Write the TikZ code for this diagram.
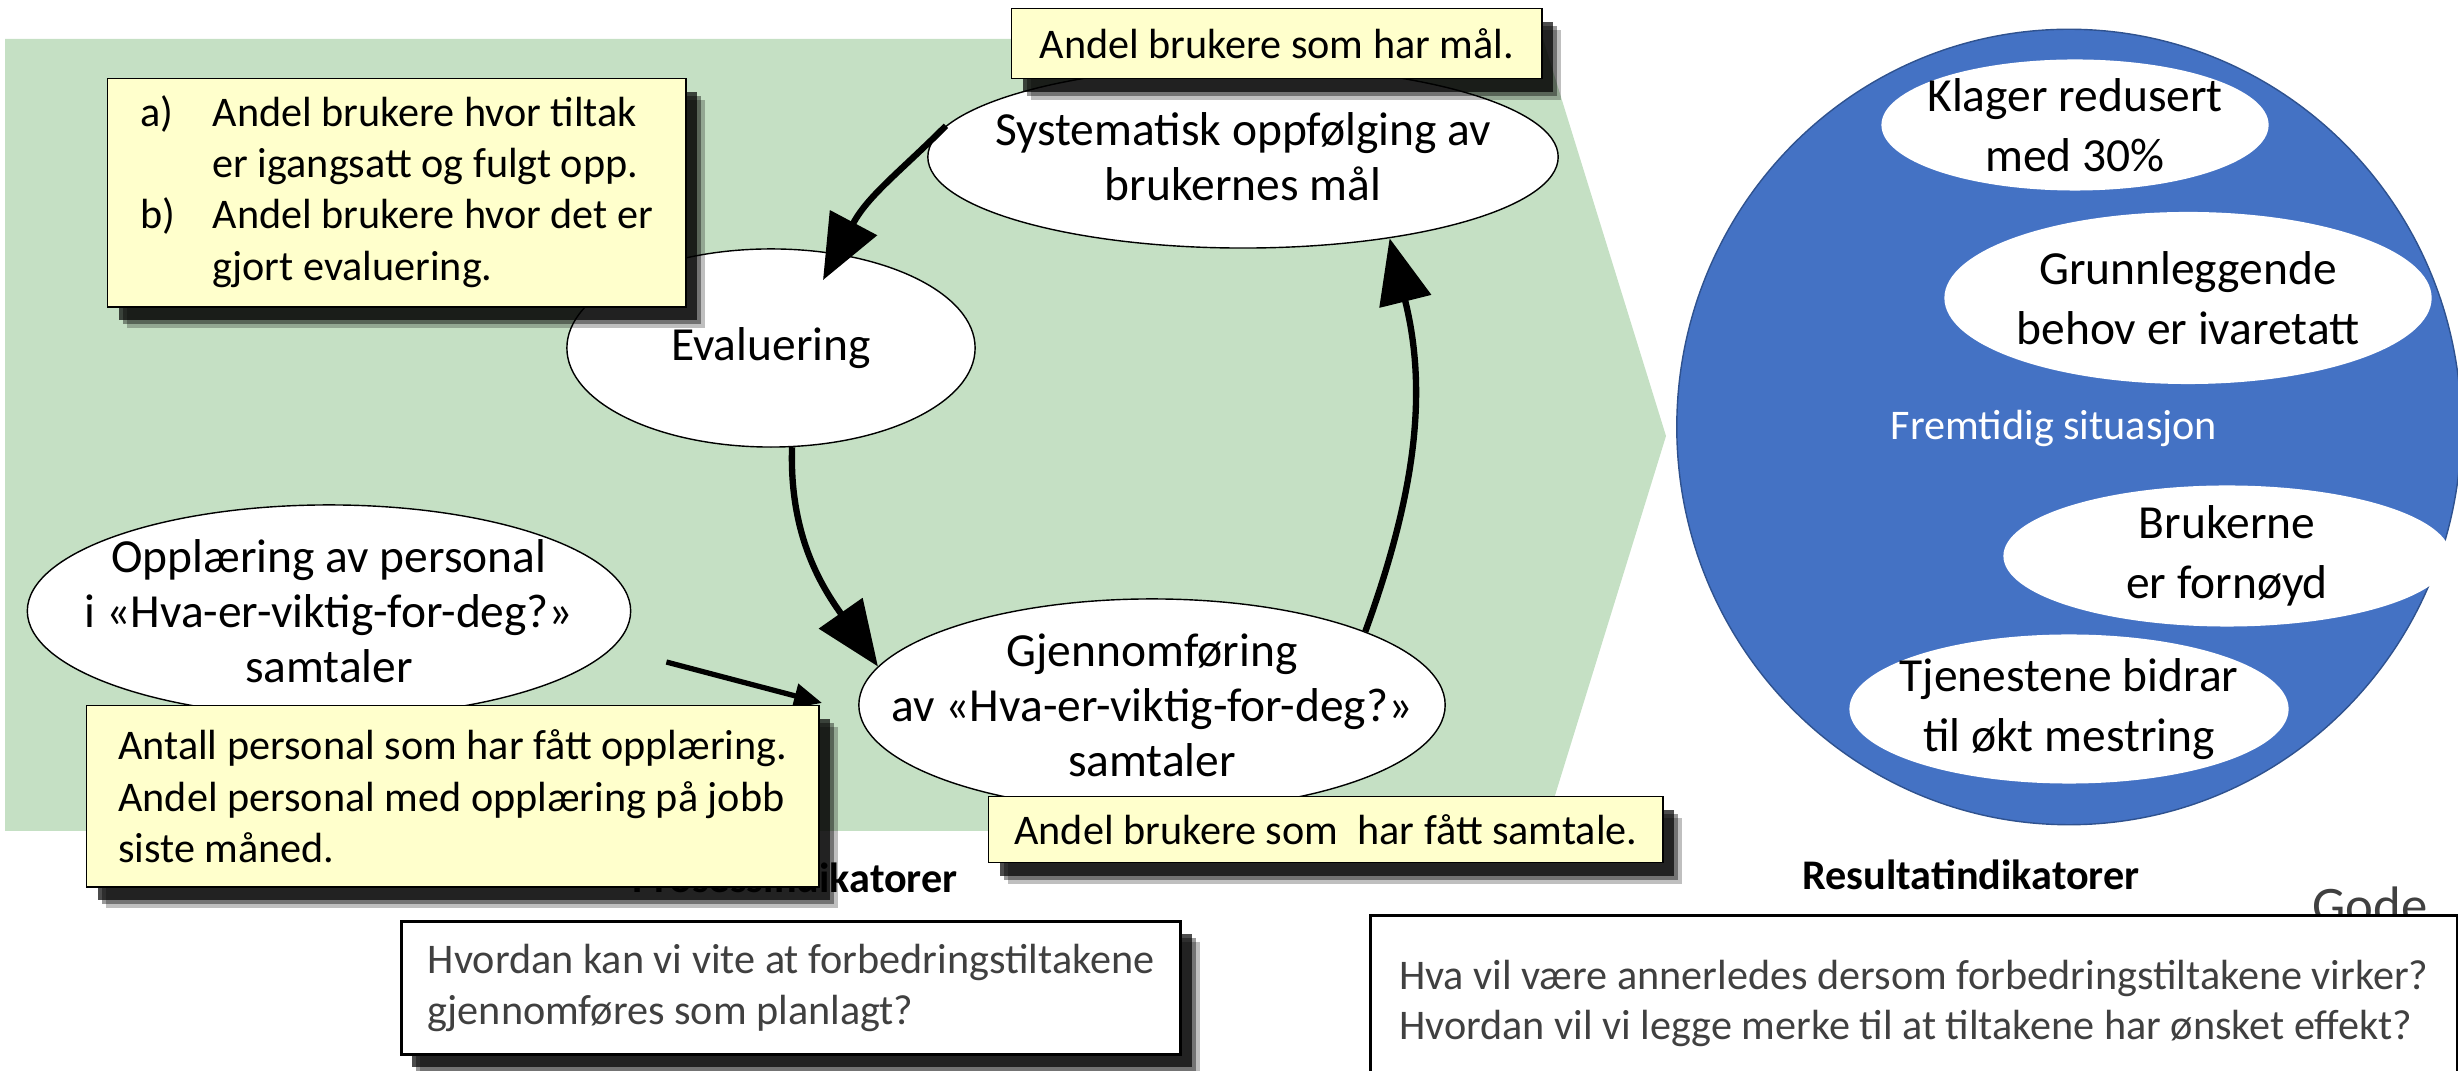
\documentclass[tikz,border=0pt]{standalone}
\usepackage{fontspec}
\setmainfont{Carlito}
\usetikzlibrary{arrows.meta,positioning,shapes.geometric,shadows}
\definecolor{chevgreen}{HTML}{C5E0C4}
\definecolor{notefill}{HTML}{FFFFCC}
\definecolor{futureblue}{HTML}{4472C4}
\definecolor{futureedge}{HTML}{2F528F}
\definecolor{askgrey}{HTML}{404040}
\tikzset{
  stage/.style  = {ellipse, draw=black, fill=white, inner sep=0pt},
  stagetext/.style = {align=center, inner sep=0pt, font=\fontsize{13.5}{15.6}\selectfont},
  goal/.style   = {ellipse, fill=white, inner sep=0pt},
  goaltext/.style = {align=center, inner sep=0pt, font=\fontsize{13.5}{17}\selectfont},
  softshadow/.style = {
    drop shadow={shadow xshift=1.9mm, shadow yshift=-2.1mm, fill=black, opacity=.25},
    drop shadow={shadow xshift=1.5mm, shadow yshift=-1.7mm, fill=black, opacity=.4},
    drop shadow={shadow xshift=1.1mm, shadow yshift=-1.3mm, fill=black, opacity=.7}},
  note/.style   = {draw=black, fill=notefill, align=left, anchor=north west,
                   inner sep=0pt, font=\fontsize{12}{14.6}\selectfont, softshadow},
  askbox/.style = {draw=black, line width=0.8pt, fill=white, align=left, anchor=north west,
                   text=askgrey, inner sep=0pt, font=\fontsize{12}{14.4}\selectfont, softshadow},
  heading/.style= {font=\fontsize{12}{14}\selectfont\bfseries, anchor=base},
  cyc/.style    = {-{Triangle[length=6.5mm,width=5.2mm]}, line width=1.8pt},
  feed/.style   = {-{Triangle[length=2.8mm,width=2.4mm]}, line width=1.5pt},
}

\begin{document}
\begin{tikzpicture}[x=0.01cm,y=0.01cm]
  \useasboundingbox (0,0) rectangle (2458,-1071);
  \fill[chevgreen] (5,-39) -- (1543,-39) -- (1666,-436) -- (1544,-831) -- (5,-831) -- cycle;

  \node[stage,minimum width=6.3cm,minimum height=1.82cm] (sys) at (1243,-157) {};
  \node[stagetext] (systxt) at (sys) {Systematisk oppfølging av\\brukernes mål};
  \node[stage,minimum width=4.08cm,minimum height=1.98cm] (eval) at (771,-348) {};
  \node[stagetext] (evaltxt) at (eval) {Evaluering};
  \node[stage,minimum width=6.03cm,minimum height=2.12cm] (opp) at (329,-611) {};
  \node[stagetext] (opptxt) at (opp) {Opplæring av personal\\i «Hva-er-viktig-for-deg?»\\samtaler};
  \node[stage,minimum width=5.86cm,minimum height=2.12cm] (gjen) at (1152,-705) {};
  \node[stagetext] (gjentxt) at (gjen) {Gjennomføring\\av «Hva-er-viktig-for-deg?»\\samtaler};

  \draw[cyc,shorten >=-3mm] (sys.174) to[out=-135,in=62] (eval.55);
  \draw[cyc] (eval.-78) to[out=-92,in=125] (gjen.172);
  \draw[cyc] (gjen.19) to[out=70,in=-76] (sys.-29);
  \draw[feed] ([xshift=3.5mm,yshift=-5.1mm]opp.east) -- ([xshift=-3.6mm,yshift=0.2mm]gjen.west);

  \node[heading] (proc) at (795,-893) {Prosessindikatorer};
  \node[heading] (res) at (1971,-890) {Resultatindikatorer};

  \node[ellipse,fill=futureblue,draw=futureedge,minimum width=7.84cm,minimum height=7.95cm] (future) at (2069,-427) {};
  \node[goal,minimum width=3.87cm,minimum height=1.31cm] (klag) at (2075,-125) {};
  \node[goaltext] (klagtxt) at (klag) {Klager redusert\\med 30\%};
  \node[goal,minimum width=4.87cm,minimum height=1.72cm] (grunn) at (2188,-298) {};
  \node[goaltext] (grunntxt) at (grunn) {Grunnleggende\\behov er ivaretatt};
  \node[text=white,font=\fontsize{12}{14}\selectfont] (fremt) at (2054,-428) {Fremtidig situasjon};
  \node[goal,minimum width=4.47cm,minimum height=1.41cm] (fornoyd) at (2227,-556) {};
  \node[goaltext] (fornoydtxt) at (fornoyd) {Brukerne\\er fornøyd};
  \node[goal,minimum width=4.39cm,minimum height=1.49cm] (mestr) at (2069,-709) {};
  \node[goaltext] (mestrtxt) at (mestr) {Tjenestene bidrar\\til økt mestring};

  \node[anchor=base,text=askgrey,font=\fontsize{15}{18}\selectfont] (gode) at (2370,-924) {Gode};

  \node[note,minimum width=5.3cm,minimum height=0.7cm] (malnote) at (1011,-8) {Andel brukere som har mål.};
  \node[note,minimum width=5.78cm,minimum height=2.28cm] (evalnote) at (107,-78)
       {\begin{tabular}{@{}p{7.2mm}@{}l@{}}
        a) & Andel brukere hvor tiltak\\
           & er igangsatt og fulgt opp.\\
        b) & Andel brukere hvor det er\\
           & gjort evaluering.
        \end{tabular}};
  \node[note,minimum width=7.32cm,minimum height=1.81cm] (oppnote) at (86,-705)
       {Antall personal som har fått opplæring.\\Andel personal med opplæring på jobb\\siste måned.};
  \node[note,minimum width=6.74cm,minimum height=0.66cm] (gjennote) at (988,-796)
       {Andel brukere som\ \ har fått samtale.};

  \node[askbox,minimum width=7.79cm,minimum height=1.33cm] (procask) at (400,-920)
       {Hvordan kan vi vite at forbedringstiltakene\\gjennomføres som planlagt?};
  \node[askbox,minimum width=10.86cm,minimum height=1.76cm] (resask) at (1369,-914)
       {Hva vil være annerledes dersom forbedringstiltakene virker?\\Hvordan vil vi legge merke til at tiltakene har ønsket effekt?};
\end{tikzpicture}
\end{document}
